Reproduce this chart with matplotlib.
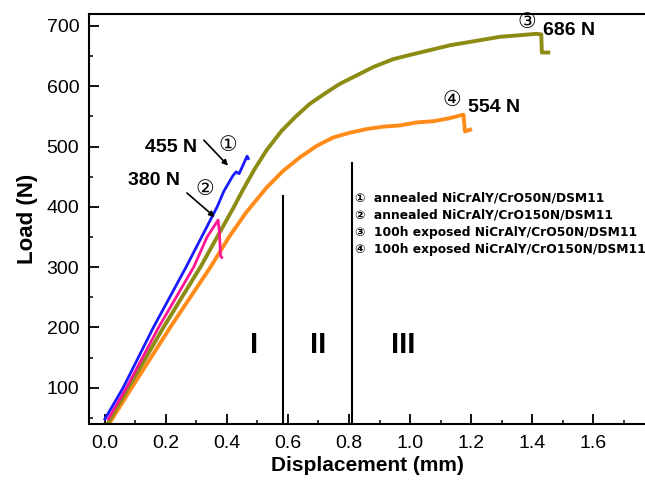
import numpy as np
import matplotlib
matplotlib.use("Agg")
import matplotlib.pyplot as plt
from matplotlib.ticker import MultipleLocator

plt.rcParams['font.family'] = ['Liberation Sans', 'DejaVu Sans']

# curve 1: annealed NiCrAlY/CrO50N/DSM11
x_blue = [0.0, 0.06, 0.159, 0.266, 0.368, 0.39, 0.42, 0.43, 0.44, 0.466, 0.47]
y_blue = [48, 100, 200, 300, 400, 426, 452, 458, 455, 484, 480]

# curve 2: annealed NiCrAlY/CrO150N/DSM11
x_pink = [0.011, 0.071, 0.176, 0.291, 0.335, 0.371, 0.375, 0.379, 0.383]
y_pink = [48, 100, 200, 300, 350, 378, 360, 319, 316]

# curve 3: 100h exposed NiCrAlY/CrO50N/DSM11
x_olive = [0.011, 0.077, 0.192, 0.313, 0.368, 0.423, 0.45, 0.49, 0.53, 0.579, 0.628,
           0.672, 0.727, 0.77, 0.825, 0.88, 0.945, 1.0, 1.131, 1.295, 1.415, 1.43,
           1.432, 1.453]
y_olive = [42, 100, 200, 300, 350, 400, 426, 462, 494, 526, 551,
           571, 590, 604, 618, 632, 645, 652, 668, 682, 687, 686,
           656, 656]

# curve 4: 100h exposed NiCrAlY/CrO150N/DSM11
x_orange = [0.016, 0.088, 0.214, 0.346, 0.407, 0.462, 0.53, 0.585, 0.639, 0.694,
            0.748, 0.803, 0.858, 0.912, 0.967, 1.022, 1.077, 1.13, 1.175, 1.18, 1.197]
y_orange = [42, 100, 200, 300, 350, 390, 432, 460, 482, 501,
            515, 523, 529, 533, 535, 540, 542, 547, 553, 525, 528]

legend_lines = ["\u2460  annealed NiCrAlY/CrO50N/DSM11",
                "\u2461  annealed NiCrAlY/CrO150N/DSM11",
                "\u2462  100h exposed NiCrAlY/CrO50N/DSM11",
                "\u2463  100h exposed NiCrAlY/CrO150N/DSM11"]

fig = plt.figure(figsize=(6.45, 4.8), dpi=100)
ax = fig.add_axes([0.138, 0.117, 0.862, 0.854])

ax.plot(x_orange, y_orange, color='#ff8c1a', lw=2.8)
ax.plot(x_olive, y_olive, color='#8c8c14', lw=2.8)
ax.plot(x_pink, y_pink, color='#ff1493', lw=2.0)
ax.plot(x_blue, y_blue, color='#1a1aff', lw=2.0)

# stage separators
ax.plot([0.584, 0.584], [40, 418], color='black', lw=1.5)
ax.plot([0.811, 0.811], [40, 473], color='black', lw=1.5)
for lbl, xp in [("I", 0.49), ("II", 0.70), ("III", 0.977)]:
    ax.text(xp, 171, lbl, fontsize=21, fontweight='bold', ha='center', va='center')

# peak loads
ax.text(0.131, 498, "455 N", fontsize=14, fontweight='bold', ha='left', va='center')
ax.text(0.403, 501, "\u2460", fontsize=15, ha='center', va='center')
ax.annotate("", xy=(0.41, 465), xytext=(0.318, 514),
            arrowprops=dict(arrowstyle='-|>', color='black', lw=1.2, mutation_scale=8))
ax.text(0.075, 443, "380 N", fontsize=14, fontweight='bold', ha='left', va='center')
ax.text(0.328, 429, "\u2461", fontsize=15, ha='center', va='center')
ax.annotate("", xy=(0.367, 380), xytext=(0.262, 426),
            arrowprops=dict(arrowstyle='-|>', color='black', lw=1.2, mutation_scale=8))
ax.text(1.384, 706, "\u2462", fontsize=15, ha='center', va='center')
ax.text(1.436, 693, "686 N", fontsize=14, fontweight='bold', ha='left', va='center')
ax.text(1.138, 576, "\u2463", fontsize=15, ha='center', va='center')
ax.text(1.19, 564, "554 N", fontsize=14, fontweight='bold', ha='left', va='center')

for i, s in enumerate(legend_lines):
    ax.text(0.82, 415 - i * 28.5, s, fontsize=8.8, fontweight='bold', family='DejaVu Sans',
            ha='left', va='center')

ax.set_xlim(-0.052, 1.77)
ax.set_ylim(40, 720)
ax.xaxis.set_major_locator(MultipleLocator(0.2))
ax.xaxis.set_minor_locator(MultipleLocator(0.1))
ax.yaxis.set_major_locator(MultipleLocator(100))
ax.yaxis.set_minor_locator(MultipleLocator(50))
ax.set_yticks([100, 200, 300, 400, 500, 600, 700])
ax.tick_params(which='major', direction='in', length=7, width=1.3, labelsize=14)
ax.tick_params(axis='x', pad=8)
ax.tick_params(axis='y', pad=7)
ax.tick_params(which='minor', direction='in', length=3, width=1.1)
ax.tick_params(top=False, right=False)
ax.spines['right'].set_visible(False)
for sp in ['left', 'bottom', 'top']:
    ax.spines[sp].set_linewidth(1.5)
ax.set_xlabel("Displacement (mm)", fontsize=15, fontweight='bold', labelpad=3)
ax.set_ylabel("Load (N)", fontsize=16, fontweight='bold', labelpad=6)

fig.savefig("out.png", dpi=100)
